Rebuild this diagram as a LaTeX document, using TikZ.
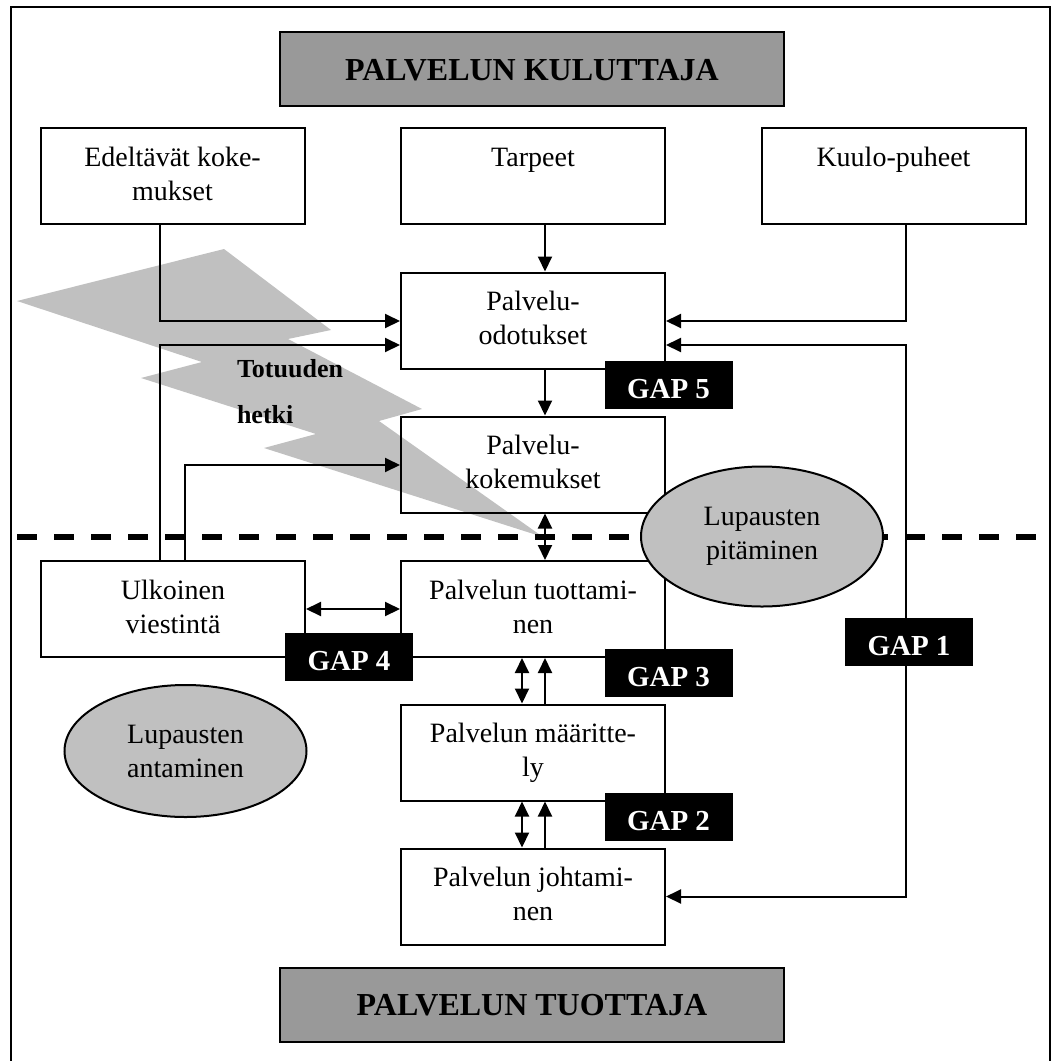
\documentclass[tikz,border=0pt]{standalone}
\usepackage{fontspec}
\setmainfont{Liberation Serif}
\usetikzlibrary{arrows.meta,calc,shapes.geometric}
\definecolor{headgray}{RGB}{153,153,153}
\definecolor{softgray}{RGB}{192,192,192}
\begin{document}
\begin{tikzpicture}[x=1pt,y=-1pt,
  line width=2pt,
  arr/.style={-{Triangle[length=15pt,width=14pt]}},
  darr/.style={{Triangle[length=15pt,width=14pt]}-{Triangle[length=15pt,width=14pt]}},
  stage/.style={draw, minimum width=264pt, minimum height=96pt, inner sep=0pt},
  txt/.style={font=\fontsize{28}{34}\selectfont, align=center, anchor=base, inner sep=0pt},
  header/.style={draw, fill=headgray, minimum width=504pt, minimum height=74pt, inner sep=0pt,
    font=\fontsize{32}{38}\bfseries\selectfont, text height=22pt, text depth=0pt},
  gap/.style={fill=black, text=white, minimum width=128pt, minimum height=48pt, inner sep=0pt,
    font=\fontsize{29}{34}\bfseries\selectfont, text height=27pt, text depth=0pt},
  promise/.style={ellipse, draw, fill=softgray, minimum width=242pt, minimum height=140pt,
    inner sep=0pt, align=center, font=\fontsize{28}{34}\selectfont},
]
\useasboundingbox (0,0) rectangle (1053,1061);

% lightning bolt
\fill[softgray] (17,301) -- (224,249) -- (331,330) -- (288,339) -- (422,409) -- (379,421)
  -- (543,537) -- (264,448) -- (316,434) -- (141,378) -- (202,362) -- cycle;

% line between customer and provider
\draw[line width=6pt, dash pattern=on 20pt off 17pt] (17,537) -- (1050,537);

% stage boxes
\node[stage] (prior)   at (172.5,176) {};
\node[stage] (needs)   at (533,176)   {};
\node[stage] (wom)     at (893.5,176) {};
\node[stage] (expect)  at (533,320.5) {};
\node[stage] (exper)   at (533,464.5) {};
\node[stage] (extcomm) at (173,609)   {};
\node[stage] (deliv)   at (533,609)   {};
\node[stage] (spec)    at (533,752.5) {};
\node[stage] (mgmt)    at (533,896.5) {};

% labels: the base anchor sits on the last line
\node[txt] (priortxt)   at ([yshift=-73pt]prior.north)   {Edeltävät koke-\\mukset};
\node[txt] (needstxt)   at ([yshift=-39pt]needs.north)   {Tarpeet};
\node[txt] (womtxt)     at ([yshift=-39pt]wom.north)     {Kuulo-puheet};
\node[txt] (expecttxt)  at ([yshift=-73pt]expect.north)  {Palvelu-\\odotukset};
\node[txt] (expertxt)   at ([yshift=-73pt]exper.north)   {Palvelu-\\kokemukset};
\node[txt] (extcommtxt) at ([yshift=-73pt]extcomm.north) {Ulkoinen\\viestintä};
\node[txt] (delivtxt)   at ([yshift=-73pt]deliv.north)   {Palvelun tuottami-\\nen};
\node[txt] (spectxt)    at ([yshift=-73pt]spec.north)    {Palvelun määritte-\\ly};
\node[txt] (mgmttxt)    at ([yshift=-73pt]mgmt.north)    {Palvelun johtami-\\nen};

% connector guide positions
\coordinate (xa) at (160,0);
\coordinate (xb) at (545,0);
\coordinate (xc) at (906,0);
\coordinate (xd) at (185,0);
\coordinate (xe) at (522,0);
\coordinate (ya) at (0,321);
\coordinate (yb) at (0,345);
\coordinate (yc) at (0,465);
\coordinate (loop) at (906,896.5);

% connectors
\draw[arr] (prior.south -| xa) |- (expect.west |- ya);
\draw[arr] (needs.south -| xb) -- (expect.north -| xb);
\draw[arr] (wom.south -| xc) |- (expect.east |- ya);
\draw[arr] (extcomm.north -| xa) |- (expect.west |- yb);
\draw[arr] (extcomm.north -| xd) |- (exper.west |- yc);
\draw[arr] (expect.south -| xb) -- (exper.north -| xb);
\draw[darr] (exper.south -| xb) -- (deliv.north -| xb);
\draw[darr] (extcomm.east) -- (deliv.west);
\draw[darr] (deliv.south -| xe) -- (spec.north -| xe);
\draw[arr] (spec.north -| xb) -- (deliv.south -| xb);
\draw[darr] (spec.south -| xe) -- (mgmt.north -| xe);
\draw[arr] (mgmt.north -| xb) -- (spec.south -| xb);
\draw[darr] (expect.east |- yb) -| (loop) -- (mgmt.east);

% promises
\node[promise] (keep) at (762,536.5) {Lupausten\\pitäminen};
\node[promise, minimum height=132pt] (give) at (185.5,751) {Lupausten\\antaminen};

% gaps
\node[gap] (gap5) at (668.5,384.5) {GAP 5};
\node[gap] (gap4) at (349,657)     {GAP 4};
\node[gap] (gap3) at (668.5,673)   {GAP 3};
\node[gap] (gap2) at (668.5,817)   {GAP 2};
\node[gap] (gap1) at (909,641.5)   {GAP 1};

% moment of truth
\node[font=\fontsize{26}{46}\bfseries\selectfont, align=left, anchor=base west, inner sep=0pt]
  (moment) at (236,423) {Totuuden\\hetki};

% headers
\node[header] (consumer) at (532,69)     {PALVELUN KULUTTAJA};
\node[header] (provider) at (532,1004.5) {PALVELUN TUOTTAJA};

% frame
\draw (11,1064) -- (11,7) -- (1050,7) -- (1050,1064);
\end{tikzpicture}
\end{document}
